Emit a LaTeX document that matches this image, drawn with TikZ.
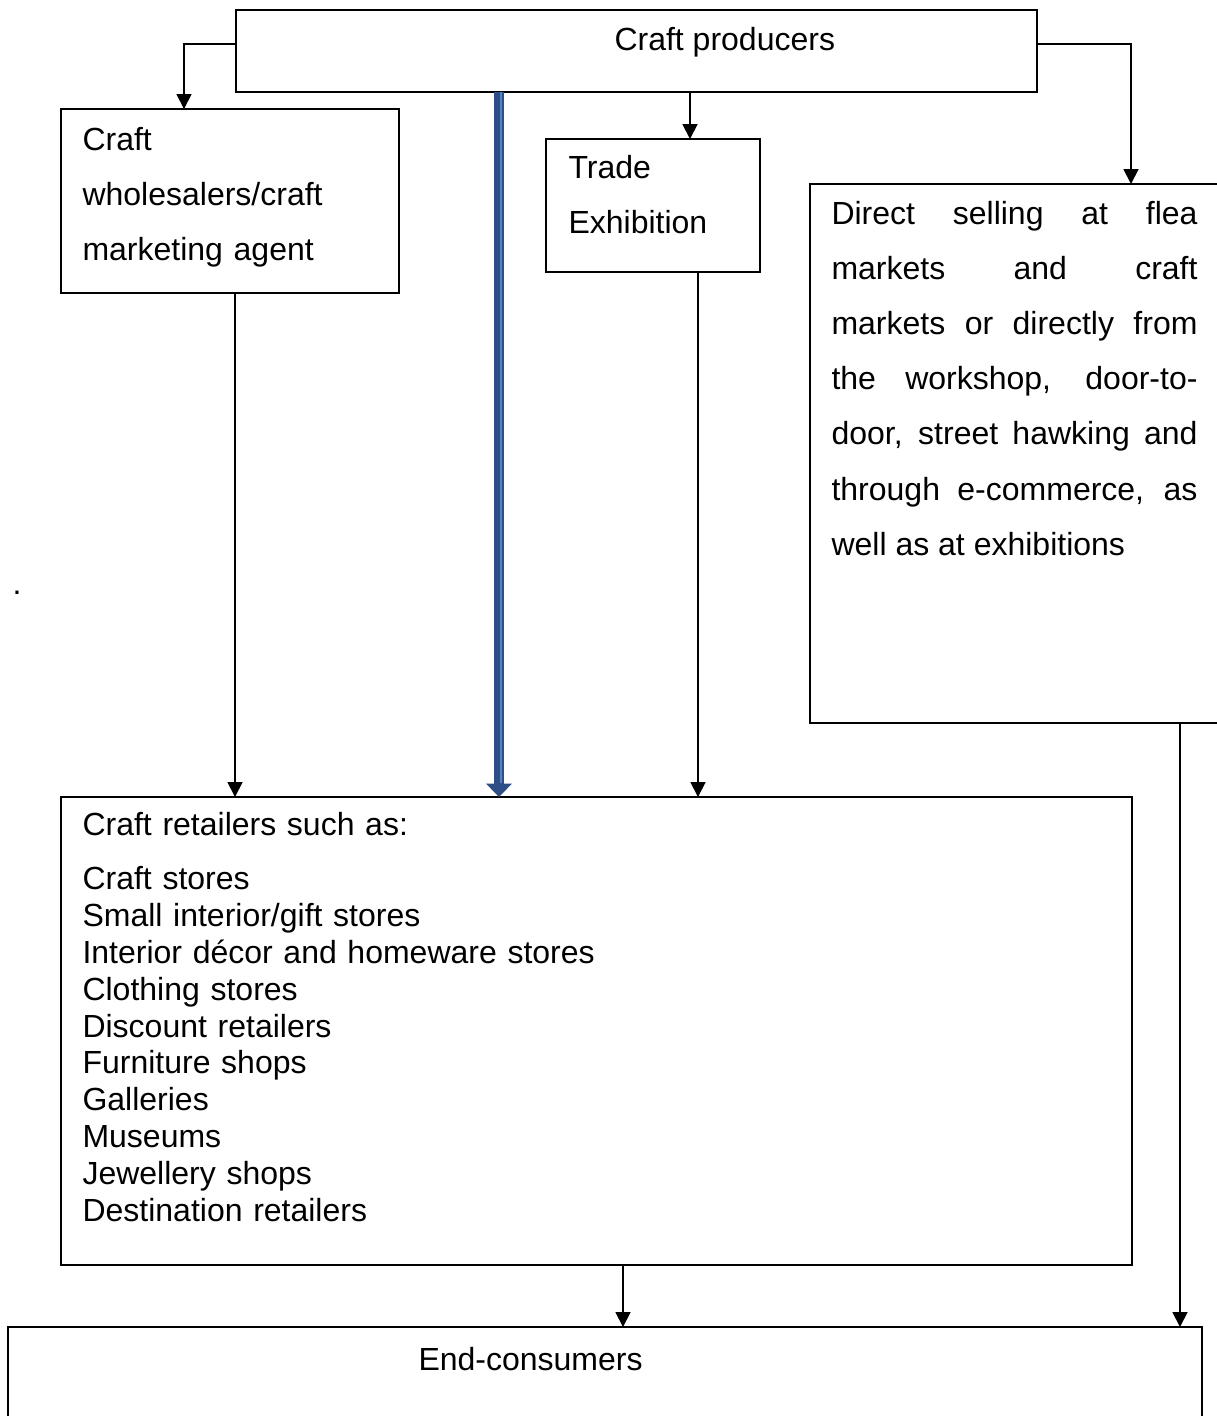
\documentclass[tikz,border=0pt]{standalone}
\usepackage{fontspec}
\setmainfont{Liberation Sans}
\usetikzlibrary{arrows.meta, positioning, fit, calc}
\definecolor{shaftblue}{RGB}{46,79,134}
\definecolor{stripeblue}{RGB}{84,130,196}

\begin{document}
\begin{tikzpicture}[x=0.375pt, y=-0.375pt,
        >={Triangle[length=5.6pt,width=5.6pt]},
        box/.style={draw, line width=0.7pt, inner sep=0, outer sep=0},
        txt/.style={inner sep=0, anchor=base west, font=\fontsize{12}{13.8}\selectfont},
        wide/.style={font=\fontsize{12}{20.7}\selectfont},
        ln/.style={line width=0.7pt},
        bigarrow/.style={line width=4.1pt, shaftblue, -{Triangle[length=5pt,width=9.4pt]}},
        stripe/.style={line width=0.8pt, stripeblue}]
    \useasboundingbox (0,0) rectangle (1217,1416);
    \clip (0,0) rectangle (1217,1416);
    \node(prod)[box, fit={(236,10) (1037,92)}] {};
    \node(prod-t)[txt] at (614,50) {Craft producers};
    \node(whole)[box, fit={(61,109) (399,293)}] {};
    \node(whole-t)[txt, wide, text width=120pt, align=left] at (82,150)
        {Craft\\wholesalers/craft\\marketing agent};
    \node(trade)[box, fit={(546,139) (760,272)}] {};
    \node(trade-t)[txt, wide, text width=70pt, align=left] at (568,178) {Trade\\Exhibition};
    \node(direct)[box, fit={(810,184) (1225,723)}] {};
    \node(direct-t)[txt, wide, text width=137.25pt, align=justify] at (831,224)
        {Direct selling at flea\linebreak markets and craft\linebreak
        markets or directly from\linebreak the workshop, door-to-\linebreak
        door, street hawking and\linebreak through e-commerce, as\linebreak
        well as at exhibitions};
    \node(ret)[box, fit={(61,797) (1132,1265)}] {};
    \node(ret-t)[txt, text width=250pt, align=left] at (82,835)
        {Craft retailers such as:\\[6.8pt]
        Craft stores\\Small interior/gift stores\\Interior décor and homeware stores\\
        Clothing stores\\Discount retailers\\Furniture shops\\Galleries\\Museums\\
        Jewellery shops\\Destination retailers};
    \node(endc)[box, fit={(8,1327) (1202,1425)}] {};
    \node(endc-t)[txt] at (418,1370) {End-consumers};
    \node(dot)[txt] at (12,594) {.};

    \draw[ln,->] ($(prod.north west)+(0,34)$) -| ($(whole.north west)+(123,0)$);
    \draw[ln,->] ($(prod.north east)+(0,34)$) -| ($(direct.north west)+(321,0)$);
    \draw[ln,->] ($(prod.south west)+(454,0)$) -- ($(trade.north west)+(144,0)$);
    \draw[bigarrow] ($(prod.south west)+(263,0)$) -- ($(ret.north west)+(438,0)$);
    \draw[stripe] ($(prod.south west)+(265,0)$) -- ($(ret.north west)+(440,-14)$);
    \draw[ln,->] ($(whole.south west)+(174,0)$) -- ($(ret.north west)+(174,0)$);
    \draw[ln,->] ($(trade.south west)+(152,0)$) -- ($(ret.north west)+(637,0)$);
    \draw[ln,->] ($(direct.south west)+(370,0)$) -- ($(endc.north west)+(1172,0)$);
    \draw[ln,->] ($(ret.south west)+(562,0)$) -- ($(endc.north west)+(615,0)$);
\end{tikzpicture}
\end{document}
